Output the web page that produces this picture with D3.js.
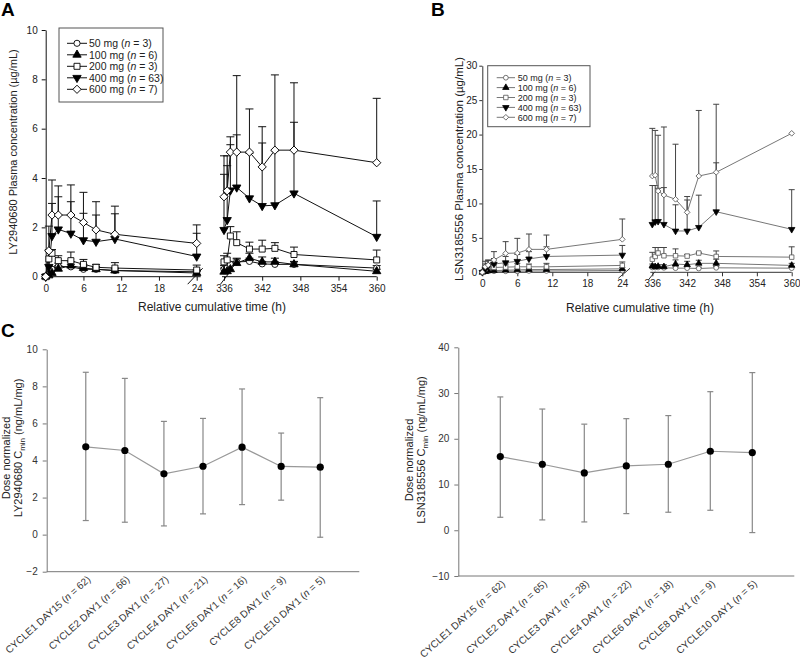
<!DOCTYPE html>
<html><head><meta charset="utf-8">
<script src="https://cdn.jsdelivr.net/npm/d3@7"></script>
<style>
body{margin:0;background:#fff}
text{font-family:"Liberation Sans",Arial,Helvetica,sans-serif}
</style>
</head><body>
<svg id="c" width="800" height="661"></svg>
<script>
// ---------------- DATA ----------------
const timesDay1  = [0, 0.5, 1, 2, 4, 6, 8, 11, 24];
const timesDay15 = [336, 336.5, 337, 338, 340, 342, 344, 347, 360];
const doseLabels = ["50 mg", "100 mg", "200 mg", "400 mg", "600 mg"];
const doseN      = [3, 6, 3, 63, 7];
const doseSymbols = ["circle", "triangle", "square", "triangleDown", "diamond"];
const doseFilled  = [false, true, false, true, false];
const timeTicksDay1  = [0, 6, 12, 18, 24];
const timeTicksDay15 = [336, 342, 348, 354, 360];

// Panel A: LY2940680 plasma concentration (µg/mL), mean and mean+SD (day1 then day15)
const aMean50  = [0, 0.1, 0.3, 0.42, 0.4, 0.3, 0.3, 0.25, 0.2,   0.3, 0.35, 0.5, 0.6, 0.62, 0.52, 0.5, 0.5, 0.35];
const aUp50    = [0, 0.15, 0.4, 0.55, 0.5, 0.4, 0.38, 0.32, 0.28, 0.45, 0.5, 0.62, 0.72, 0.75, 0.62, 0.6, 0.6, 0.45];
const aMean100 = [0, 0.05, 0.15, 0.32, 0.45, 0.35, 0.3, 0.25, 0.15, 0.2, 0.22, 0.3, 0.55, 0.75, 0.6, 0.6, 0.5, 0.22];
const aUp100   = [0, 0.1, 0.25, 0.45, 0.6, 0.5, 0.42, 0.35, 0.22,  0.35, 0.4, 0.5, 0.75, 0.95, 0.8, 0.75, 0.62, 0.3];
const aMean200 = [0, 0.72, 0.95, 0.65, 0.65, 0.5, 0.38, 0.35, 0.27, 0.6, 0.68, 1.65, 1.38, 1.12, 1.12, 1.15, 0.9, 0.68];
const aUp200   = [0, 1.05, 1.1, 0.85, 1.0, 0.7, 0.5, 0.57, 0.47,   0.85, 0.95, 2.03, 1.82, 1.4, 1.48, 1.38, 1.2, 1.08];
const aMean400 = [0, 0.4, 1.65, 1.92, 1.75, 1.48, 1.42, 1.53, 0.82, 1.9, 2.3, 3.5, 3.62, 3.18, 2.87, 2.9, 3.38, 1.62];
const aUp400   = [0, 1.1, 2.97, 3.24, 3.04, 2.57, 2.5, 2.55, 1.76,  4.15, 4.5, 5.35, 5.75, 5.0, 5.42, 5.1, 6.26, 3.07];
const aMean600 = [0, 1.05, 2.5, 2.5, 2.5, 2.2, 1.9, 1.72, 1.35,    3.24, 3.48, 5.05, 5.05, 5.05, 4.45, 5.13, 5.13, 4.62];
const aUp600   = [0, 2.05, 3.92, 3.68, 3.72, 3.42, 3.04, 2.86, 2.1, 4.9, 4.9, 5.67, 8.15, 6.8, 6.08, 8.18, 7.86, 7.23];
const aYTicks  = [0, 2, 4, 6, 8, 10];

// Panel B: LSN3185556 plasma concentration (µg/mL)
const bMean50  = [0, 0.2, 0.15, 0.15, 0.15, 0.15, 0.2, 0.2, 0.25, 0.7, 0.7, 0.7, 0.65, 0.6, 0.6, 0.55, 0.65, 0.6];
const bUp50    = [0, 0.3, 0.3, 0.3, 0.3, 0.3, 0.35, 0.35, 0.4,    0.9, 0.9, 0.9, 0.85, 0.8, 0.8, 0.75, 0.85, 0.8];
const bMean100 = [0, 0.1, 0.2, 0.25, 0.3, 0.35, 0.4, 0.4, 0.5,    0.9, 0.8, 0.85, 0.8, 1.2, 1.1, 1.3, 1.3, 1.0];
const bUp100   = [0, 0.2, 0.35, 0.4, 0.45, 0.5, 0.55, 0.6, 0.7,   1.2, 1.1, 1.1, 1.1, 1.8, 1.6, 1.75, 1.9, 1.3];
const bMean200 = [0, 0.5, 0.8, 0.7, 0.75, 0.8, 0.8, 0.8, 1.0,     1.9, 2.3, 2.8, 2.4, 2.4, 2.35, 2.8, 2.3, 2.2];
const bUp200   = [0, 0.9, 1.3, 1.1, 1.2, 1.3, 1.2, 1.3, 1.5,      2.9, 3.6, 3.6, 3.6, 3.4, 2.6, 2.9, 3.1, 3.7];
const bMean400 = [0, 0.5, 0.9, 1.2, 1.4, 1.6, 1.95, 2.3, 2.5,     6.97, 7.35, 7.4, 6.97, 6.0, 6.0, 6.53, 8.8, 6.24];
const bUp400   = [0, 1.2, 1.7, 2.0, 2.3, 2.6, 3.0, 3.7, 3.9,      12.6, 12.6, 12.2, 12.3, 9.8, 10.5, 11.2, 15.9, 12.0];
const bMean600 = [0, 0.8, 1.06, 1.79, 2.75, 2.8, 3.33, 3.33, 4.79, 13.98, 14.1, 11.8, 11.22, 10.6, 8.71, 13.98, 14.52, 20.18];
const bUp600   = [0, 1.6, 1.8, 3.0, 4.45, 4.93, 5.56, 5.41, 7.74, 20.9, 20.6, 19.9, 21.1, 18.6, 11.0, 23.5, 24.4, 20.18];
const bYTicks  = [0, 5, 10, 15, 20, 25, 30];

// Panel C: dose-normalized Cmin (ng/mL/mg)
const cycles  = ["CYCLE1 DAY15", "CYCLE2 DAY1", "CYCLE3 DAY1", "CYCLE4 DAY1", "CYCLE6 DAY1", "CYCLE8 DAY1", "CYCLE10 DAY1"];
const nLY     = [62, 66, 27, 21, 16, 9, 5];
const nLSN    = [62, 65, 28, 22, 18, 9, 5];
const lyMean  = [4.74, 4.54, 3.28, 3.69, 4.72, 3.68, 3.64];
const lyUpper = [8.76, 8.43, 6.11, 6.27, 7.86, 5.48, 7.39];
const lyLower = [0.76, 0.67, 0.47, 1.12, 1.62, 1.86, -0.14];
const lsnMean  = [16.1, 14.43, 12.54, 14.07, 14.43, 17.27, 16.98];
const lsnUpper = [29.15, 26.5, 23.2, 24.4, 25.07, 30.3, 34.47];
const lsnLower = [2.84, 2.26, 1.82, 3.64, 3.94, 4.37, -0.51];
const lyYTicks  = [-2, 0, 2, 4, 6, 8, 10];
const lsnYTicks = [-10, 0, 10, 20, 30, 40];

// ---------------- DRAWING ----------------
const svg = d3.select("#c");
const allTimes = timesDay1.concat(timesDay15);

function symbolPath(kind, size) {
  const t = {circle: d3.symbolCircle, triangle: d3.symbolTriangle, square: d3.symbolSquare,
             triangleDown: d3.symbolTriangle, diamond: d3.symbolSquare}[kind];
  return d3.symbol(t, size)();
}
function symbolRot(kind) { return kind === "triangleDown" ? 180 : (kind === "diamond" ? 45 : 0); }

function drawMarker(g, kind, filled, x, y, st) {
  g.append("path")
    .attr("d", symbolPath(kind, st.sizes[kind]))
    .attr("transform", `translate(${x},${y}) rotate(${symbolRot(kind)})`)
    .attr("fill", filled ? st.fillFilled : "#fff")
    .attr("stroke", filled ? st.fillFilled : st.markerStroke)
    .attr("stroke-width", st.markerWidth);
}

function drawTimePanel(o) {
  const g = svg.append("g");
  const y = d3.scaleLinear().domain([o.yTicks[0], o.yTicks[o.yTicks.length - 1]]).range([o.y0, o.y1]);
  const xa = d3.scaleLinear().domain([0, 24]).range(o.xaRange);
  const xb = d3.scaleLinear().domain([336, 360]).range(o.xbRange);
  const xOf = t => t <= 24 ? xa(t) : xb(t);

  // axes
  const yAx = g.append("g").attr("transform", `translate(${o.xaRange[0]},0)`)
    .call(d3.axisLeft(y).tickValues(o.yTicks).tickSize(o.yTickSize).tickSizeOuter(0).tickPadding(o.yTickPad));
  const xAx1 = g.append("g").attr("transform", `translate(0,${o.y0})`)
    .call(d3.axisBottom(xa).tickValues(timeTicksDay1).tickSize(4).tickSizeOuter(0).tickPadding(4));
  const xAx2 = g.append("g").attr("transform", `translate(0,${o.y0})`)
    .call(d3.axisBottom(xb).tickValues(timeTicksDay15).tickSize(4).tickSizeOuter(0).tickPadding(4));
  [xAx1, xAx2].forEach(a => a.select(".domain").remove());
  [yAx, xAx1, xAx2].forEach(a => {
    a.selectAll("line,path").attr("stroke", o.axisColor);
    a.selectAll("text").attr("font-size", o.tickFont).attr("fill", o.tickColor)
      .attr("font-family", '"Liberation Sans",Arial,sans-serif');
  });
  g.append("line").attr("x1", xa(0)).attr("x2", xa(24) + o.extL).attr("y1", o.y0).attr("y2", o.y0).attr("stroke", o.axisColor);
  g.append("line").attr("x1", xb(336) - o.extR).attr("x2", xb(360)).attr("y1", o.y0).attr("y2", o.y0).attr("stroke", o.axisColor);
  // break marks
  const bl = o.breakL, br = o.breakR;
  g.append("line").attr("x1", xa(24) + bl[0]).attr("y1", o.y0 + bl[1]).attr("x2", xa(24) + bl[2]).attr("y2", o.y0 + bl[3]).attr("stroke", o.axisColor);
  g.append("line").attr("x1", xb(336) + br[0]).attr("y1", o.y0 + br[1]).attr("x2", xb(336) + br[2]).attr("y2", o.y0 + br[3]).attr("stroke", o.axisColor);

  // error bars
  const eg = g.append("g");
  o.means.forEach((m, s) => {
    const up = o.uppers[s];
    allTimes.forEach((t, i) => {
      if (up[i] <= m[i]) return;
      const x = xOf(t);
      eg.append("line").attr("x1", x).attr("x2", x).attr("y1", y(m[i])).attr("y2", y(up[i]))
        .attr("stroke", o.errColor).attr("stroke-width", 1);
      eg.append("line").attr("x1", x - o.capW).attr("x2", x + o.capW).attr("y1", y(up[i])).attr("y2", y(up[i]))
        .attr("stroke", o.errColor).attr("stroke-width", 1);
    });
  });
  // lines
  const line = d3.line().x(d => xOf(d[0])).y(d => y(d[1]));
  o.means.forEach(m => {
    const p1 = timesDay1.map((t, i) => [t, m[i]]);
    const p2 = timesDay15.map((t, i) => [t, m[i + 9]]);
    [p1, p2].forEach(p => g.append("path").attr("d", line(p)).attr("fill", "none")
      .attr("stroke", o.lineColor).attr("stroke-width", o.lineWidth));
  });
  // markers
  const mg = g.append("g");
  o.means.forEach((m, s) => {
    allTimes.forEach((t, i) => drawMarker(mg, doseSymbols[s], doseFilled[s], xOf(t), y(m[i]), o.style));
  });

  // legend
  const L = o.legend;
  g.append("rect").attr("x", L.x).attr("y", L.y).attr("width", L.w).attr("height", L.h)
    .attr("fill", "#fff").attr("stroke", L.stroke).attr("stroke-width", 1);
  doseLabels.forEach((lab, s) => {
    const yy = L.y + L.first + s * L.step;
    g.append("line").attr("x1", L.x + L.lx1).attr("x2", L.x + L.lx2).attr("y1", yy).attr("y2", yy)
      .attr("stroke", o.lineColor).attr("stroke-width", o.lineWidth);
    drawMarker(g, doseSymbols[s], doseFilled[s], L.x + (L.lx1 + L.lx2) / 2, yy, o.style);
    const tx = g.append("text").attr("x", L.x + L.tx).attr("y", yy).attr("dy", "0.36em")
      .attr("font-size", L.font).attr("fill", "#222");
    tx.append("tspan").text(lab + " (");
    tx.append("tspan").attr("font-style", "italic").text("n");
    tx.append("tspan").text(" = " + doseN[s] + ")");
  });

  // axis titles
  g.append("text").attr("transform", `translate(${o.yLabelX},${o.yLabelY}) rotate(-90)`)
    .attr("text-anchor", "middle").attr("font-size", o.yLabelFont).attr("fill", "#222").text(o.yLabel);
  g.append("text").attr("x", o.xLabelX).attr("y", o.xLabelY).attr("text-anchor", "middle")
    .attr("font-size", o.xLabelFont).attr("fill", "#222").text("Relative cumulative time (h)");
  g.append("text").attr("x", o.tagX).attr("y", o.tagY).attr("font-size", 19).attr("font-weight", "bold")
    .attr("fill", "#000").text(o.tag);
}

drawTimePanel({
  tag: "A", tagX: 1, tagY: 16,
  yTicks: aYTicks, y0: 276.7, y1: 30, yTickSize: 4, yTickPad: 4,
  xaRange: [45.7, 196.7], xbRange: [224, 376.7],
  extL: 4, extR: 2,
  breakL: [-9, 7.5, 6, -8.5], breakR: [-3.5, 7.5, 6, -5],
  means: [aMean50, aMean100, aMean200, aMean400, aMean600],
  uppers: [aUp50, aUp100, aUp200, aUp400, aUp600],
  axisColor: "#111", tickColor: "#222", tickFont: 10,
  errColor: "#111", capW: 4, lineColor: "#111", lineWidth: 1,
  style: {sizes: {circle: 30, triangle: 30, square: 36, triangleDown: 30, diamond: 34},
          fillFilled: "#000", markerStroke: "#000", markerWidth: 0.9},
  legend: {x: 59, y: 28, w: 104, h: 74, stroke: "#555", first: 15.3, step: 11.5,
           lx1: 8, lx2: 28, tx: 30, font: 10.5},
  yLabel: "LY2940680 Plasma concentration (\u00b5g/mL)", yLabelX: 17, yLabelY: 152, yLabelFont: 11,
  xLabelX: 212, xLabelY: 311, xLabelFont: 12
});

drawTimePanel({
  tag: "B", tagX: 431, tagY: 16,
  yTicks: bYTicks, y0: 272.3, y1: 65.7, yTickSize: 3, yTickPad: 2,
  xaRange: [482.3, 622.3], xbRange: [652.3, 791.7],
  extL: 3, extR: 2,
  breakL: [-4, 6, 7.7, -4], breakR: [-4, 7.7, 2.7, -0.6],
  means: [bMean50, bMean100, bMean200, bMean400, bMean600],
  uppers: [bUp50, bUp100, bUp200, bUp400, bUp600],
  axisColor: "#333", tickColor: "#222", tickFont: 10,
  errColor: "#444", capW: 3, lineColor: "#777", lineWidth: 1,
  style: {sizes: {circle: 18, triangle: 18, square: 20, triangleDown: 18, diamond: 16},
          fillFilled: "#000", markerStroke: "#555", markerWidth: 0.8},
  legend: {x: 487.7, y: 65.7, w: 102.3, h: 61, stroke: "#555", first: 12, step: 9.9,
           lx1: 9, lx2: 27.3, tx: 30, font: 9},
  yLabel: "LSN3185556 Plasma concentration (\u00b5g/mL)", yLabelX: 463, yLabelY: 169, yLabelFont: 11.5,
  xLabelX: 640, xLabelY: 312, xLabelFont: 12
});

function drawCmin(o) {
  const g = svg.append("g");
  const x = d3.scalePoint().domain(cycles).range(o.xRange).padding(1);
  const y = d3.scaleLinear().domain([o.yTicks[0], o.yTicks[o.yTicks.length - 1]]).range([o.yBottom, o.yTop]);
  const yAx = g.append("g").attr("transform", `translate(${o.xRange[0]},0)`)
    .call(d3.axisLeft(y).tickValues(o.yTicks).tickFormat(d => d < 0 ? "\u2212" + Math.abs(d) : d)
      .tickSize(4).tickSizeOuter(0).tickPadding(5));
  yAx.selectAll("line,path").attr("stroke", "#777");
  yAx.selectAll("text").attr("font-size", 10).attr("fill", "#333")
    .attr("font-family", '"Liberation Sans",Arial,sans-serif');
  g.append("line").attr("x1", o.xRange[0]).attr("x2", o.xRange[1]).attr("y1", o.yBottom).attr("y2", o.yBottom)
    .attr("stroke", "#777");

  // error bars
  cycles.forEach((c, i) => {
    const cx = x(c);
    g.append("line").attr("x1", cx).attr("x2", cx).attr("y1", y(o.lower[i])).attr("y2", y(o.upper[i]))
      .attr("stroke", "#888").attr("stroke-width", 1.2);
    [o.lower[i], o.upper[i]].forEach(v => g.append("line").attr("x1", cx - 3).attr("x2", cx + 3)
      .attr("y1", y(v)).attr("y2", y(v)).attr("stroke", "#888").attr("stroke-width", 1.2));
  });
  const line = d3.line().x((d, i) => x(cycles[i])).y(d => y(d));
  g.append("path").attr("d", line(o.mean)).attr("fill", "none").attr("stroke", "#999").attr("stroke-width", 1.2);
  cycles.forEach((c, i) => g.append("circle").attr("cx", x(c)).attr("cy", y(o.mean[i])).attr("r", 3.6).attr("fill", "#000"));

  // category labels
  cycles.forEach((c, i) => {
    const t = g.append("text").attr("transform", `translate(${x(c) + 3},${o.yBottom + 6}) rotate(-42)`)
      .attr("text-anchor", "end").attr("dy", "0.35em").attr("font-size", 10).attr("fill", "#333");
    t.append("tspan").text(c + " (");
    t.append("tspan").attr("font-style", "italic").text("n");
    t.append("tspan").text(" = " + o.n[i] + ")");
  });

  // y title (two lines)
  g.append("text").attr("transform", `translate(${o.l1x},${o.labelY + 10}) rotate(-90)`).attr("text-anchor", "middle")
    .attr("font-size", 11).attr("fill", "#222").text("Dose normalized");
  const t2 = g.append("text").attr("transform", `translate(${o.l2x},${o.labelY}) rotate(-90)`).attr("text-anchor", "middle")
    .attr("font-size", 11).attr("fill", "#222");
  t2.append("tspan").text(o.drug + " C");
  t2.append("tspan").attr("font-size", 8).attr("dy", 3).text("min");
  t2.append("tspan").attr("dy", -3).text(" (ng/mL/mg)");
  if (o.tag) g.append("text").attr("x", 1).attr("y", 337).attr("font-size", 19).attr("font-weight", "bold").text(o.tag);
}

drawCmin({
  tag: "C", xRange: [46.7, 359.3], yBottom: 571.7, yTop: 349.3, yTicks: lyYTicks,
  mean: lyMean, upper: lyUpper, lower: lyLower, n: nLY, drug: "LY2940680",
  l1x: 10, l2x: 22, labelY: 448
});
drawCmin({
  tag: null, xRange: [458.3, 794.3], yBottom: 576, yTop: 347.3, yTicks: lsnYTicks,
  mean: lsnMean, upper: lsnUpper, lower: lsnLower, n: nLSN, drug: "LSN3185556",
  l1x: 413, l2x: 425, labelY: 450
});
</script>
</body></html>
